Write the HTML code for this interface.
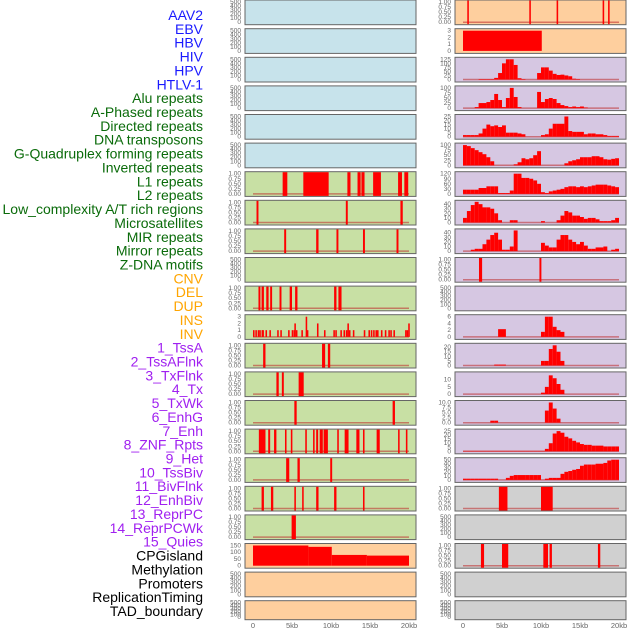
<!DOCTYPE html>
<html><head><meta charset="utf-8"><style>
html,body{margin:0;padding:0;background:#fff;width:630px;height:630px;overflow:hidden}
svg{display:block}
text{font-family:"Liberation Sans",sans-serif}
</style></head><body>
<svg id="chart" width="630" height="630" viewBox="0 0 630 630"></svg>
<script>
const labelNames = ["AAV2","EBV","HBV","HIV","HPV","HTLV-1","Alu repeats","A-Phased repeats","Directed repeats","DNA transposons","G-Quadruplex forming repeats","Inverted repeats","L1 repeats","L2 repeats","Low_complexity A/T rich regions","Microsatellites","MIR repeats","Mirror repeats","Z-DNA motifs","CNV","DEL","DUP","INS","INV","1_TssA","2_TssAFlnk","3_TxFlnk","4_Tx","5_TxWk","6_EnhG","7_Enh","8_ZNF_Rpts","9_Het","10_TssBiv","11_BivFlnk","12_EnhBiv","13_ReprPC","14_ReprPCWk","15_Quies","CPGisland","Methylation","Promoters","ReplicationTiming","TAD_boundary"];
const labelGroups = [6,13,5,15,5];
const groupColors = ["#1a1aff","#0a6b0a","#ffa500","#a020f0","#000000"];

const leftBg = ["blue","blue","blue","blue","blue","blue","green","green","green","green","green","green","green","green","green","green","green","green","green","peach","peach","peach"];
const rightBg = ["peach","peach","lav","lav","lav","lav","lav","lav","lav","lav","lav","lav","lav","lav","lav","lav","lav","gray","gray","gray","gray","gray"];

// binary interval data (kb)
const L1 = [[3.8,4.4],[6.45,9.7],[12.1,12.5],[13.4,13.8],[13.9,14.3],[15.4,16.4],[18.6,19.1],[19.4,19.9]];
const LowCx = [[0.45,0.7],[11.9,12.15],[18.9,19.2]];
const MIR = [[4.0,4.25],[8.1,8.4],[10.7,10.95],[14.1,14.35],[18.4,18.65]];
const DEL = [[0.7,0.95],[1.1,1.4],[1.7,2.0],[2.2,2.45],[3.4,3.65],[4.7,5.0],[5.4,5.7],[10.4,10.7],[10.95,11.35]];
const TssA = [[1.3,1.6],[8.85,9.25],[9.6,9.9]];
const TxFlnk = [[3.0,3.3],[3.7,3.95],[5.85,6.5]];
const TxWk = [[5.3,5.6],[17.9,18.2]];
const Enh = [[0.75,1.6],[1.95,2.2],[2.7,3.0],[4.1,4.3],[4.85,5.05],[6.7,6.9],[7.7,7.9],[8.1,8.35],[8.55,8.95],[9.05,9.6],[10.8,11.0],[11.75,12.25],[13.25,13.65],[14.1,14.3],[15.85,16.25],[18.6,18.8],[19.6,19.8]];
const Het = [[4.25,4.65],[5.7,6.0],[9.9,10.15]];
const BivFlnk = [[1.1,1.4],[2.3,2.6],[5.3,5.5],[6.3,6.5],[8.1,8.4],[10.4,10.7],[14.1,14.3]];
const ReprPC = [[4.95,5.5]];
const AAV2r = [[0.55,0.75],[8.5,8.7],[12.0,12.2],[17.9,18.1],[18.6,18.8]];
const ZDNAr = [[2.05,2.45],[9.8,10.05]];
const BivFlnkR = [[4.6,5.7],[10.0,11.5]];
const CPGr = [[2.3,2.7],[5.0,5.8],[10.3,10.9],[11.1,11.4],[17.3,17.6]];

// INS counts
const insPos = [0.0,0.3,0.6,0.8,1.1,1.2,1.6,2.1,3.1,3.5,4.5,4.96,5.2,5.3,5.5,6.2,6.75,6.9,8.2,9.1,10.3,10.55,11.2,11.6,11.9,12.1,12.3,12.8,14.2,14.8,15.1,15.4,15.7,15.9,16.4,16.9,17.35,17.6,18.0,19.5,19.7,19.9];
const insVal = [1,1,1,1,1,1,1,1,1,1,1,1,1,2,1,1,3,1,2,1,1,1,1,1,1,2,1,1,1,1,1,1,1,1,1,1,1,1,1,1,1,2];

// CPG island step values
const cpgStarts = [0,7.1,10.1,14.6];
const cpgEnds = [7.1,10.1,14.6,20];
const cpgVals = [150,140,80,75];

// EBV block
const ebvStarts = [0];
const ebvEnds = [10.1];
const ebvVals = [3];

// histograms: 40 bins of 0.5kb
const hHIV = [0,0,0,0,3,3,3,3,10,40,100,125,125,90,8,3,0,0,0,40,75,75,55,35,28,30,25,20,5,3,0,0,0,0,0,0,0,0,0,0];
const hAlu = [0,0,0,5,25,25,30,40,70,40,5,50,100,55,5,0,0,0,0,80,30,45,50,45,25,15,10,5,8,5,8,3,0,0,0,0,0,0,0,0];
const hDir = [2,2,2,2,4,10,15,13,14,12,14,5,5,5,4,3,0,0,0,0,2,3,10,16,16,16,25,7,6,6,6,3,4,4,3,3,2,1,1,1];
const hGQ = [100,95,85,75,65,55,40,20,0,0,0,0,0,5,15,35,30,35,50,70,0,0,0,0,0,0,10,20,25,30,40,40,40,45,45,40,30,28,32,35];
const hL1 = [25,25,25,25,35,35,45,45,45,5,5,5,20,120,120,95,95,90,80,60,10,5,15,20,25,30,40,45,45,40,45,40,45,50,55,55,55,50,45,40];
const hLow = [10,25,38,45,40,33,33,30,20,5,0,0,5,5,0,0,0,0,0,0,3,0,0,0,5,15,25,22,15,15,12,8,10,10,7,3,3,3,5,10];
const hMIR = [0,0,3,5,5,15,25,35,40,25,3,3,10,45,0,0,0,0,0,0,18,12,8,8,25,35,35,25,20,15,20,12,5,5,8,8,10,0,3,5];
const hINS = [0,0,0,0,0,0,0,0,0,2.3,2.3,0,0,0,0,0,0,0,0,0,1.5,6,6,3,2,1.5,0,0,0,0,0,0,0,0,0,0,0,0,0,0];
const hTssA = [0,0,0,0,0,0,0,0,1,1,1,0,0,0,0,0,0,0,0,0,5,5,18,22,15,5,0,0,0,0,0,0,0,0,0,0,0,0,0,0];
const hTxF = [0,0,0,0,0,0,0,0,0,0,0,0,0,0,0,0,0,0,0,0,1,5,13,11,7,3,0,0,0,0,0,0,0,0,0,0,0,0,0,0];
const hTxWk = [0,0,0,0,0,0,0,1,1,0,0,0,0,0,0,0,0,0,0,0,0,6,10,7,2,0,0,0,0,0,0,0,0,0,0,0,0,0,0,0];
const hEnh = [0.5,0.5,0.5,0.5,0.5,0.5,0.5,0.5,0.5,0.5,0.5,0.5,0.5,0.5,0.5,0.5,0.5,0.5,0.5,0.5,0.5,3,10,22,25,23,18,16,13,11,9,8,8,7,7,7,6,6,6,6];
const hHet = [3,3,3,3,3,3,3,3,3,0,0,5,10,12,12,12,12,12,12,12,0,3,5,5,5,15,20,22,25,27,35,38,38,38,40,40,42,48,50,50];

const ticksBin = ["0.00","0.25","0.50","0.75","1.00"];
const ticksEmpty = ["0","100","200","300","400","500"];

const svg = document.getElementById('chart');
const NS = "http://www.w3.org/2000/svg";
const bgColors = {blue:"#c7e3eb",green:"#c8e0a4",peach:"#fecf9e",lav:"#d6c7e2",gray:"#d0d0d0"};

function mk(tag, attrs, parent){
  const e = document.createElementNS(NS, tag);
  for (const k in attrs) e.setAttribute(k, attrs[k]);
  (parent||svg).appendChild(e);
  return e;
}

// labels
let li = 0;
labelGroups.forEach((n, g) => {
  for (let j = 0; j < n; j++) {
    const t = mk('text', {x:203, y:15 + li*13.86 + 5, 'text-anchor':'end', 'font-size':14, fill:groupColors[g]});
    t.textContent = labelNames[li];
    
    
    li++;
  }
});

const cols = [{x0:245, x1:416, z:253, w:156, tx:241},{x0:455, x1:626, z:463, w:156, tx:451}];
function rowTop(i){ return i===0 ? 0 : 28.6*i + 0.1; }
function rowH(i){ return i===0 ? 24.7 : (i===21 ? 19 : 24.7); }

function panel(col, row, bg, ticks, max, name, baseline){
  const c = cols[col];
  const top = rowTop(row), h = rowH(row), bot = top + h;
  const g = mk('g', {});
  
  
  const r = mk('rect', {x:c.x0, y:top, width:c.x1-c.x0, height:h, fill:bgColors[bg], stroke:'#666', 'stroke-width':1}, g);
  
  
  const base = bot - 2.5, ytop = top + 2;
  const ys = v => base - (v/max)*(base-ytop);
  const xs = kb => c.z + kb/20*c.w;
  ticks.forEach(t => {
    const v = parseFloat(t);
    const tt = mk('text', {x:c.tx, y:ys(v)+2, 'text-anchor':'end', 'font-size':6.5, fill:'#666'}, g);
    tt.textContent = t;
    
    
  });
  if (baseline) {
    const bl = mk('line', {x1:xs(0), x2:xs(20), y1:base, y2:base, stroke:'rgba(190,40,40,0.55)', 'stroke-width':1.5}, g);
    
    
  }
  return {g, xs, ys, base, top, bot};
}
function drawBar(p, a, b, v, yFull){
  const y = yFull ? p.top+0.5 : p.ys(v);
  const r = mk('rect', {x:p.xs(a), y:y, width:Math.max(1.2, p.xs(b)-p.xs(a)), height:Math.max(0, p.base+ (yFull?2:0) - y), fill:'#ff0000'}, p.g);
  
  
}
function intervals(p, arr){ arr.forEach(iv => drawBar(p, iv[0], iv[1], 1, true)); }
function hist(p, arr){ arr.forEach((v,i) => { if (v>0) drawBar(p, i*0.5, i*0.5+0.5, v, false); }); }
function steps(p, s, e, v){ s.forEach((a,i) => drawBar(p, a, e[i], v[i], false)); }

// left column
for (let i = 0; i < 22; i++) {
  const isBin = {6:L1,7:LowCx,8:MIR,10:DEL,12:TssA,13:TxFlnk,14:TxWk,15:Enh,16:Het,17:BivFlnk,18:ReprPC}[i];
  if (isBin) { const p = panel(0,i,leftBg[i],ticksBin,1,'left-panel-'+i,true); intervals(p,isBin); }
  else if (i===11) { const p = panel(0,i,leftBg[i],["0","1","2","3"],3,'left-panel-ins',true); insPos.forEach((x,k)=>drawBar(p,x,x+0.2,insVal[k],false)); }
  else if (i===19) { const p = panel(0,i,leftBg[i],["0","50","100","150"],150,'left-panel-cpg',false); steps(p,cpgStarts,cpgEnds,cpgVals); }
  else panel(0,i,leftBg[i],ticksEmpty,500,'left-panel-'+i,false);
}
// right column
const rightHist = {
  2:[hHIV,["0","25","50","75","100","125"],125],
  3:[hAlu,["0","25","50","75","100"],100],
  4:[hDir,["0","5","10","15","20","25"],25],
  5:[hGQ,["0","25","50","75","100"],100],
  6:[hL1,["0","30","60","90","120"],120],
  7:[hLow,["0","10","20","30","40"],44],
  8:[hMIR,["0","10","20","30","40"],44],
  11:[hINS,["0","2","4","6"],6],
  12:[hTssA,["0","5","10","15","20"],22],
  13:[hTxF,["0","5","10"],14],
  14:[hTxWk,["0.0","2.5","5.0","7.5","10.0"],10],
  15:[hEnh,["0","5","10","15","20","25"],25],
  16:[hHet,["0","10","20","30","40","50"],50]
};
const rightBin = {0:AAV2r,9:ZDNAr,17:BivFlnkR,19:CPGr};
for (let i = 0; i < 22; i++) {
  if (rightHist[i]) { const d = rightHist[i]; const p = panel(1,i,rightBg[i],d[1],d[2],'right-panel-'+i,true); hist(p,d[0]); }
  else if (rightBin[i]) { const p = panel(1,i,rightBg[i],ticksBin,1,'right-panel-'+i,true); intervals(p,rightBin[i]); }
  else if (i===1) { const p = panel(1,i,rightBg[i],["0","1","2","3"],3,'right-panel-ebv',false); steps(p,ebvStarts,ebvEnds,ebvVals); }
  else panel(1,i,rightBg[i],ticksEmpty,500,'right-panel-'+i,false);
}
// x axes
const xTicks = ["0","5kb","10kb","15kb","20kb"];
cols.forEach((c,ci) => {
  xTicks.forEach((t,k) => {
    const tt = mk('text', {x:c.z + k*5/20*c.w, y:628, 'text-anchor':'middle', 'font-size':7.5, fill:'#666'});
    tt.textContent = t;
    
    
  });
});
</script>
</body></html>
